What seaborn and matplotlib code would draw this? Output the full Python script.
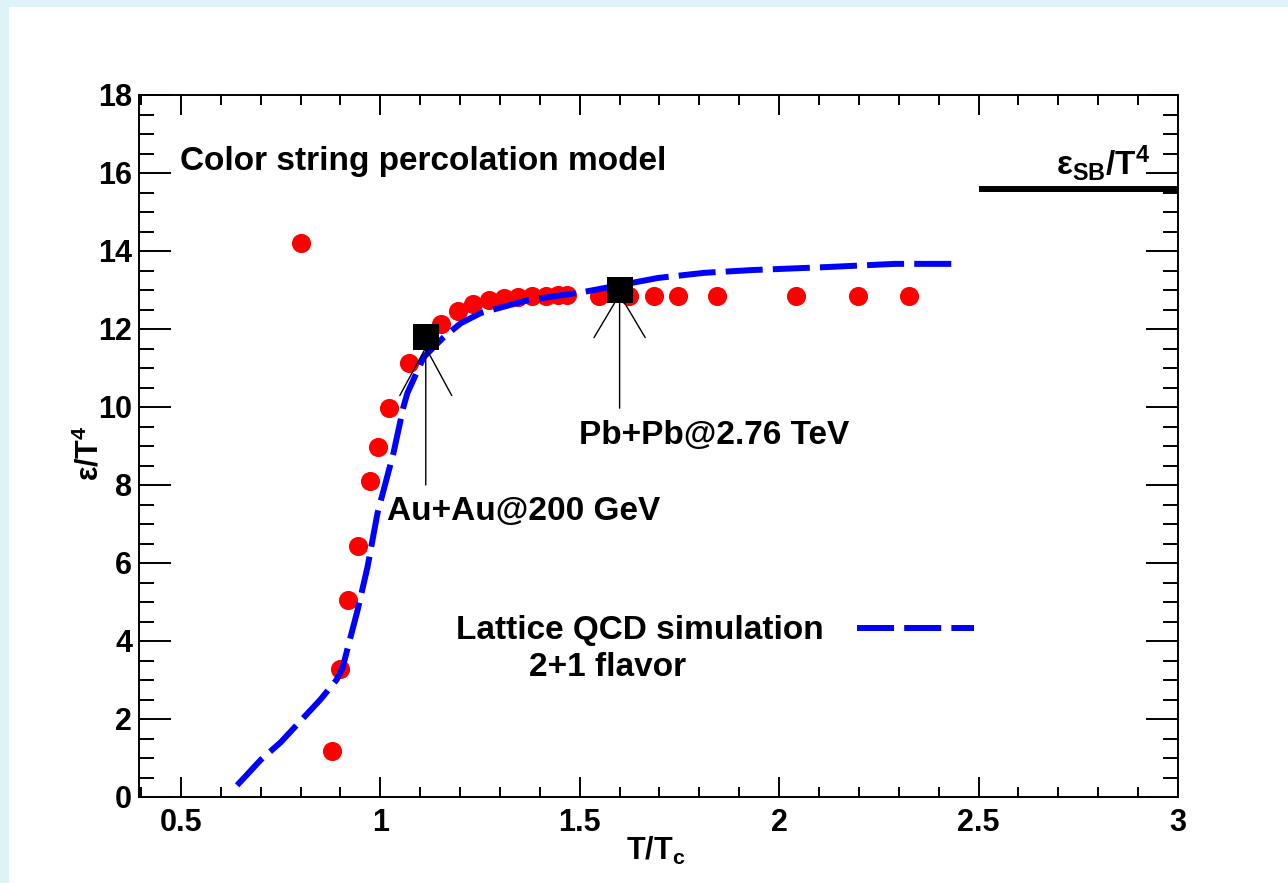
import matplotlib
matplotlib.use("Agg")
import matplotlib.pyplot as plt
from matplotlib.patches import Rectangle
from matplotlib.ticker import MultipleLocator
import pandas as pd
import seaborn as sns

# color string percolation model, eps/T^4 vs T/Tc
perc_t = [0.80, 0.88, 0.90, 0.92, 0.943, 0.973, 0.995, 1.023, 1.071, 1.151,
          1.196, 1.232, 1.272, 1.31, 1.345, 1.38, 1.415, 1.445, 1.468,
          1.548, 1.624, 1.686, 1.747, 1.845, 2.041, 2.197, 2.325]
perc_eps = [14.2, 1.18, 3.28, 5.05, 6.44, 8.10, 8.97, 9.97, 11.13, 12.13,
            12.46, 12.64, 12.74, 12.79, 12.82, 12.84, 12.85, 12.86, 12.86,
            12.85, 12.85, 12.85, 12.85, 12.85, 12.85, 12.85, 12.85]

# lattice QCD, 2+1 flavor
lqcd_t = [0.641, 0.70, 0.75, 0.80, 0.85, 0.89, 0.905, 0.943, 0.968, 0.993,
          1.033, 1.058, 1.068, 1.109, 1.159, 1.202, 1.252, 1.37, 1.51, 1.697,
          1.812, 1.93, 2.124, 2.29, 2.433]
lqcd_eps = [0.3, 0.95, 1.4, 1.95, 2.5, 3.0, 3.3, 4.79, 5.90, 7.28,
            8.82, 10.0, 10.36, 11.28, 11.79, 12.15, 12.41, 12.74, 12.95, 13.31,
            13.44, 13.51, 13.59, 13.67, 13.67]

# collision systems
coll_names = ["Au+Au@200 GeV", "Pb+Pb@2.76 TeV"]
coll_t = [1.114, 1.60]
coll_eps = [11.8, 13.0]

# Stefan-Boltzmann limit
sb_eps = 15.6

perc = pd.DataFrame({"t": perc_t, "eps": perc_eps})
lqcd = pd.DataFrame({"t": lqcd_t, "eps": lqcd_eps})
coll = pd.DataFrame({"t": coll_t, "eps": coll_eps, "name": coll_names})

sns.set_theme(style="ticks")
plt.rcParams["font.family"] = ["Liberation Sans", "DejaVu Sans"]
plt.rcParams["font.weight"] = "bold"
plt.rcParams["text.color"] = "black"
plt.rcParams["axes.labelcolor"] = "black"
plt.rcParams["xtick.color"] = "black"
plt.rcParams["ytick.color"] = "black"
plt.rcParams["mathtext.fontset"] = "custom"
plt.rcParams["mathtext.rm"] = "Liberation Sans"
plt.rcParams["mathtext.it"] = "Liberation Sans:italic"
plt.rcParams["mathtext.bf"] = "Liberation Sans:bold"

fig = plt.figure(figsize=(12.88, 8.83), dpi=100)
fig.patch.set_facecolor("#ddf3f8")
fig.add_artist(Rectangle((9 / 1288, 0), 1, 876 / 883, transform=fig.transFigure,
                         facecolor="white", edgecolor="none", zorder=0))
ax = fig.add_axes([139 / 1288, 86 / 883, 1039 / 1288, 702 / 883])
ax.set_facecolor("none")

sns.scatterplot(data=perc, x="t", y="eps", ax=ax, color="red", marker="o",
                s=190, linewidth=0, zorder=3)
sns.lineplot(data=lqcd, x="t", y="eps", ax=ax, color="blue", sort=False,
             lw=4.3, linestyle=(0, (6.2, 1.7)), dash_capstyle="butt",
             label="Lattice QCD simulation", zorder=4)

# arrows pointing at the two collision systems (tips hidden under squares)
ax.annotate("", xy=(coll_t[0], 11.56), xytext=(coll_t[0], 8.0),
            arrowprops=dict(arrowstyle="->,head_length=3.45,head_width=1.87",
                            mutation_scale=10, lw=1.0, color="black",
                            shrinkA=0, shrinkB=0), zorder=5)
ax.annotate("", xy=(coll_t[1], 12.92), xytext=(coll_t[1], 9.97),
            arrowprops=dict(arrowstyle="->,head_length=3.1,head_width=1.84",
                            mutation_scale=10, lw=1.0, color="black",
                            shrinkA=0, shrinkB=0), zorder=5)

sns.scatterplot(data=coll, x="t", y="eps", ax=ax, color="black", marker="s",
                s=350, linewidth=0, zorder=6, legend=False)

sb = ax.hlines(sb_eps, 2.5, 3.0, color="black", lw=4.3, zorder=4)
sb.set_capstyle("butt")

ax.set_xlim(0.395, 3.0)
ax.set_ylim(0, 18)
ax.xaxis.set_major_locator(MultipleLocator(0.5))
ax.xaxis.set_minor_locator(MultipleLocator(0.1))
ax.yaxis.set_major_locator(MultipleLocator(2))
ax.yaxis.set_minor_locator(MultipleLocator(0.5))
ax.set_xticks([0.5, 1, 1.5, 2, 2.5, 3])
ax.set_xticklabels(["0.5", "1", "1.5", "2", "2.5", "3"])

for s in ax.spines.values():
    s.set_linewidth(1.4)
    s.set_color("black")
ax.tick_params(axis="both", which="both", direction="in", top=True, right=True,
               width=1.4, color="black", labelsize=22, labelcolor="black")
ax.tick_params(axis="x", which="major", length=14.4, pad=8)
ax.tick_params(axis="x", which="minor", length=7)
ax.tick_params(axis="y", which="major", length=23, pad=5)
ax.tick_params(axis="y", which="minor", length=11)
for lab in ax.get_xticklabels() + ax.get_yticklabels():
    lab.set_fontweight("bold")

ax.set_xlabel(r"T/T$_{\mathbf{c}}$", fontsize=22, fontweight="bold")
ax.xaxis.set_label_coords(0.497, -0.054)
ax.set_ylabel(r"$\mathrm{\varepsilon}$/T$^{\mathbf{4}}$", fontsize=22,
              fontweight="bold")
ax.yaxis.set_label_coords(-0.032, 0.49)

ax.text(0.498, 16.3, "Color string percolation model", fontsize=24,
        fontweight="bold", va="center", ha="left")
ax.text(1.016, 7.31, coll_names[0], fontsize=24, fontweight="bold",
        va="center", ha="left")
ax.text(1.498, 9.26, coll_names[1], fontsize=24, fontweight="bold",
        va="center", ha="left")
ax.text(1.372, 3.31, "2+1 flavor", fontsize=24, fontweight="bold",
        va="center", ha="left")
ax.text(2.93, 16.25, r"$\mathrm{\varepsilon}_{\mathbf{SB}}$/T$^{\mathbf{4}}$",
        fontsize=24, fontweight="bold", va="center", ha="right")

handles, labels = ax.get_legend_handles_labels()
leg = ax.legend(handles=handles, labels=labels, loc="center left",
                bbox_to_anchor=(1.19, 4.26), bbox_transform=ax.transData,
                frameon=False, markerfirst=False, handlelength=3.5,
                handletextpad=1.0, borderpad=0, borderaxespad=0,
                prop={"size": 24, "weight": "bold"})
for t in leg.get_texts():
    t.set_color("black")

fig.savefig("out.png", dpi=100, facecolor=fig.get_facecolor())
